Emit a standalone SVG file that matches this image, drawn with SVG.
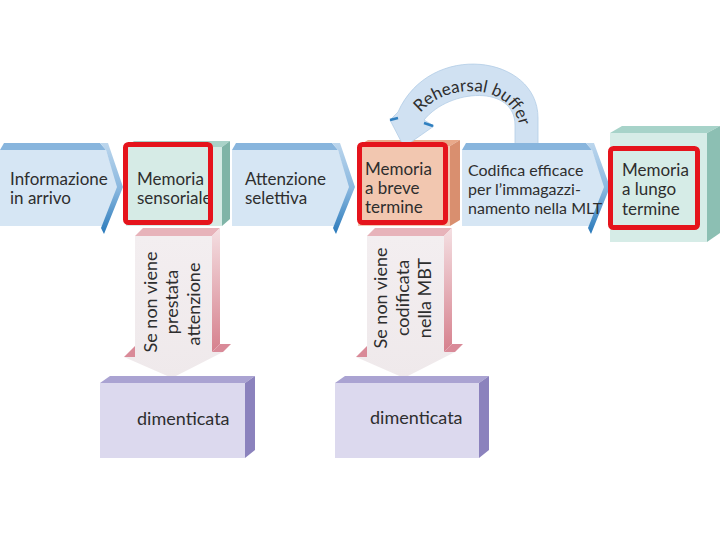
<svg xmlns="http://www.w3.org/2000/svg" width="720" height="540" viewBox="0 0 720 540">
<style>
  .t{font-family:Lato,"Open Sans","DejaVu Sans",sans-serif;font-size:17px;fill:#2e2e2e}
  .tv{font-family:Lato,"Open Sans","DejaVu Sans",sans-serif;font-size:18px;fill:#2e2e2e;text-anchor:middle}
  .arrFront{fill:#d6e6f4}
  .arrTop{fill:#88b5dd}
  .arrEdge{fill:url(#edgeGrad)}
  .red{fill:none;stroke:#e5141c;stroke-width:5}
  .pinkTop{fill:#e7b3ba}
  .pinkSide{fill:url(#pinkSideGrad)}
  .pinkFront{fill:url(#pinkFrontGrad)}
  .pinkFlare{fill:#d98a98}
  .lavFront{fill:#dcd9ee}
  .lavTop{fill:#aaa3d2}
  .lavSide{fill:#8b82bd}
</style>
<defs>
  <linearGradient id="edgeGrad" x1="0" y1="0" x2="0" y2="1">
    <stop offset="0" stop-color="#bcd6ed"/>
    <stop offset="0.5" stop-color="#8ab8df"/>
    <stop offset="1" stop-color="#2a7abb"/>
  </linearGradient>
  <linearGradient id="pinkSideGrad" x1="0" y1="0" x2="0" y2="1">
    <stop offset="0" stop-color="#f4dfe2"/>
    <stop offset="1" stop-color="#d6808d"/>
  </linearGradient>
  <linearGradient id="pinkFrontGrad" x1="0" y1="0" x2="0" y2="1">
    <stop offset="0" stop-color="#f3eef0"/>
    <stop offset="1" stop-color="#efe9eb"/>
  </linearGradient>
  <path id="arcText" d="M 418,116 C 442,82 512,80 520,128"/>
</defs>
<rect width="720" height="540" fill="#ffffff"/>

<g id="informazione">
  <polygon class="arrTop" points="0,150 4,143 100,143 106,150"/>
  <polygon class="arrFront" points="0,150 106,150 118,187 102,226 0,226"/>
  <polygon class="arrEdge" points="100,143 108,143 123,187 104,234 101,228 117,187 106,150"/>
  <text class="t" x="10" y="185">Informazione</text>
  <text class="t" x="10" y="204">in arrivo</text>
</g>

<g id="sensoriale">
  <polygon fill="#a9d2c8" points="126,147 134,141 230,141 222,147"/>
  <polygon fill="#7fb4a7" points="222,147 230,141 230,219 222,226"/>
  <rect x="126" y="147" width="96" height="79" fill="#d6ebe6"/>
  <text class="t" x="137" y="185">Memoria</text>
  <text class="t" x="137" y="204">sensoriale</text>
</g>

<g id="attenzione">
  <polygon class="arrTop" points="232,150 236,143 332,143 338,150"/>
  <polygon class="arrFront" points="232,150 338,150 350,187 334,226 232,226"/>
  <polygon class="arrEdge" points="332,143 340,143 355,187 336,234 333,228 349,187 338,150"/>
  <text class="t" x="245" y="185">Attenzione</text>
  <text class="t" x="245" y="204">selettiva</text>
</g>

<g id="breve">
  <polygon fill="#e9a98a" points="358,146 368,140 460,140 450,146"/>
  <polygon fill="#d98f6f" points="450,146 460,140 460,220 450,226"/>
  <rect x="358" y="146" width="92" height="80" fill="#f2c7b0"/>
  <text class="t" x="365" y="175">Memoria</text>
  <text class="t" x="365" y="194">a breve</text>
  <text class="t" x="365" y="213">termine</text>
</g>

<g id="connectors">
  <g id="rehearsal">
    <path d="M 538,146 L 538,118 C 538,55 430,40 398,112 L 390,120 L 404,147 L 434,126 L 424,120 C 450,88 515,85 515,125 L 515,146 Z" fill="#d0e1f2" stroke="#b3cde6" stroke-width="0.8"/>
    <path d="M 390,120 L 398,118" stroke="#2f7fbf" stroke-width="2.5" fill="none"/>
    <path d="M 424,123 L 433,126" stroke="#2f7fbf" stroke-width="2.5" fill="none"/>
    <text font-family="Lato,'Open Sans','DejaVu Sans',sans-serif" font-size="17" fill="#2e2e2e"><textPath href="#arcText" startOffset="4">Rehearsal buffer</textPath></text>
  </g>
  <g id="down1">
    <polygon class="pinkTop" points="135,236 143,228 220,228 212,236"/>
    <polygon class="pinkSide" points="212,236 220,228 220,344 212,352"/>
    <polygon class="pinkFlare" points="212,352 220,344 231,344 223,352"/>
    <polygon class="pinkFront" points="135,236 212,236 212,352 223,352 172,378 124,357 135,357"/>
    <polygon class="pinkFlare" points="124,357 135,346 135,357"/>
  </g>
  <g id="down2" transform="translate(232,0)">
    <polygon class="pinkTop" points="135,236 143,228 220,228 212,236"/>
    <polygon class="pinkSide" points="212,236 220,228 220,344 212,352"/>
    <polygon class="pinkFlare" points="212,352 220,344 231,344 223,352"/>
    <polygon class="pinkFront" points="135,236 212,236 212,352 223,352 172,378 124,357 135,357"/>
    <polygon class="pinkFlare" points="124,357 135,346 135,357"/>
  </g>
  <text class="tv" transform="translate(157,302) rotate(-90)">Se non viene</text>
  <text class="tv" transform="translate(178,302) rotate(-90)">prestata</text>
  <text class="tv" transform="translate(200,304) rotate(-90)">attenzione</text>
  <text class="tv" transform="translate(387,298) rotate(-90)">Se non viene</text>
  <text class="tv" transform="translate(409,298) rotate(-90)">codificata</text>
  <text class="tv" transform="translate(431,298) rotate(-90)">nella MBT</text>
</g>

<g id="codifica">
  <polygon class="arrTop" points="462,150 466,143 586,143 592,150"/>
  <polygon class="arrFront" points="462,150 592,150 605,187 589,226 462,226"/>
  <polygon class="arrEdge" points="586,143 594,143 610,187 591,234 588,228 604,187 592,150"/>
  <text class="t" x="468" y="176" style="font-size:16px">Codifica efficace</text>
  <text class="t" x="468" y="195" style="font-size:16px">per l’immagazzi-</text>
  <text class="t" x="468" y="214" style="font-size:16px">namento nella MLT</text>
</g>

<g id="lungo">
  <polygon fill="#a7d3c9" points="610,133 622,126 720,126 707,133"/>
  <polygon fill="#8cbfb3" points="707,133 720,126 720,233 707,242"/>
  <rect x="610" y="133" width="97" height="109" fill="#d6ece7"/>
  <text class="t" x="622" y="176">Memoria</text>
  <text class="t" x="622" y="195">a lungo</text>
  <text class="t" x="622" y="215">termine</text>
</g>

<g id="dimenticata1">
  <polygon class="lavTop" points="100,383 110,376 255,376 245,383"/>
  <polygon class="lavSide" points="245,383 255,376 255,450 245,458"/>
  <rect class="lavFront" x="100" y="383" width="145" height="75"/>
  <text class="t" x="137" y="425" style="font-size:18px">dimenticata</text>
</g>

<g id="dimenticata2">
  <polygon class="lavTop" points="335,383 345,376 489,376 479,383"/>
  <polygon class="lavSide" points="479,383 489,376 489,450 479,458"/>
  <rect class="lavFront" x="335" y="383" width="144" height="75"/>
  <text class="t" x="370" y="424" style="font-size:18px">dimenticata</text>
</g>

<g id="highlights">
  <rect class="red" x="125.5" y="144.5" width="85" height="78" rx="3"/>
  <rect class="red" x="359.5" y="144.5" width="86" height="78" rx="3"/>
  <rect class="red" x="610.5" y="148.5" width="87" height="79" rx="3"/>
</g>
</svg>
